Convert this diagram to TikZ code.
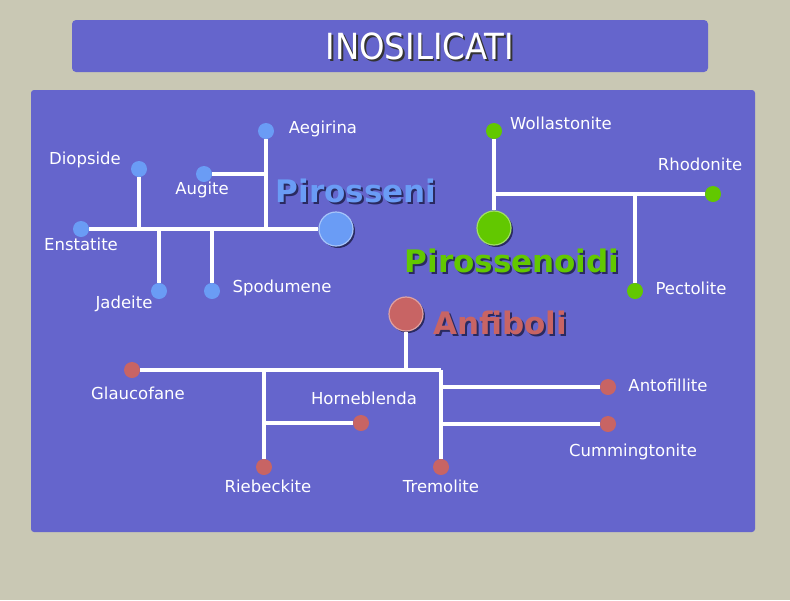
\documentclass[tikz,border=0pt]{standalone}
\usepackage{fontspec}
\setmainfont{DejaVu Sans}
\definecolor{sfondo}{HTML}{C9C8B4}
\definecolor{pannello}{HTML}{6565CC}
\definecolor{blu}{HTML}{6A9CF5}
\definecolor{verde}{HTML}{62C800}
\definecolor{rosso}{HTML}{C86464}
\definecolor{ombra}{HTML}{2A2A60}
% testo con ombra
\newcommand{\conombra}[2]{\rlap{\hspace{2pt}\raisebox{-2pt}{\textcolor{#1}{#2}}}#2}
\tikzset{
  pallino/.style={circle, inner sep=0pt, minimum size=16pt},
  nodone/.style={circle, inner sep=0pt, minimum size=34pt, line width=1.2pt},
  ombrone/.style={circle, inner sep=0pt, minimum size=34pt, fill=ombra},
  etichetta/.style={rectangle, inner sep=0pt, text=white, font=\fontsize{16.5}{19}\selectfont},
  gruppo/.style={rectangle, inner sep=0pt, font=\bfseries\fontsize{31}{36}\selectfont},
  ramo/.style={draw=white, line width=4pt}
}
\begin{document}
\begin{tikzpicture}[x=1pt, y=-1pt]
  \useasboundingbox[fill=sfondo] (0,0) rectangle (790,600);
  % pannelli
  \fill[pannello, rounded corners=4pt] (72,20) rectangle (708,72);
  \fill[pannello, rounded corners=3pt] (31,90) rectangle (755,532);
  \node[rectangle, text=white, font=\fontsize{36}{40}\selectfont, xscale=0.9] (titolo) at (420,47) {\conombra{black!80}{INOSILICATI}};

  % Posizioni dei nodi - Pirosseni
  \node[ombrone] (pirombra) at (338,231) {};
  \node[nodone, fill=blu, draw=blu!60!white] (pir) at (336,229) {};
  \node[pallino, fill=blu] (ens) at (81,229) {};
  \node[pallino, fill=blu] (dio) at (139,169) {};
  \node[pallino, fill=blu] (aeg) at (266,131) {};
  \node[pallino, fill=blu] (aug) at (204,174) {};
  \node[pallino, fill=blu] (jad) at (159,291) {};
  \node[pallino, fill=blu] (spo) at (212,291) {};
  \coordinate (jdio) at (139,229);
  \coordinate (jaeg) at (266,229);
  \coordinate (jaug) at (266,174);
  \coordinate (jjad) at (159,229);
  \coordinate (jspo) at (212,229);

  % Posizioni dei nodi - Pirossenoidi
  \node[ombrone] (psdombra) at (496,230) {};
  \node[nodone, fill=verde, draw=verde!60!white] (psd) at (494,228) {};
  \node[pallino, fill=verde] (wol) at (494,131) {};
  \node[pallino, fill=verde] (rho) at (713,194) {};
  \node[pallino, fill=verde] (pec) at (635,291) {};
  \coordinate (jwol) at (494,194);
  \coordinate (jpec) at (635,194);

  % Posizioni dei nodi - Anfiboli
  \node[ombrone] (anfombra) at (408,316) {};
  \node[nodone, fill=rosso, draw=rosso!60!white] (anf) at (406,314) {};
  \node[pallino, fill=rosso] (gla) at (132,370) {};
  \node[pallino, fill=rosso] (rie) at (264,467) {};
  \node[pallino, fill=rosso] (hor) at (361,423) {};
  \node[pallino, fill=rosso] (tre) at (441,467) {};
  \node[pallino, fill=rosso] (ant) at (608,387) {};
  \node[pallino, fill=rosso] (cum) at (608,424) {};
  \coordinate (janf) at (406,370);
  \coordinate (jrie) at (264,370);
  \coordinate (jhor) at (264,423);
  \coordinate (jtre) at (441,370);
  \coordinate (jant) at (441,387);
  \coordinate (jcum) at (441,424);

  % Archi
  \draw[ramo] (ens) -- (pir);
  \draw[ramo] (jdio) -- (dio);
  \draw[ramo] (jaeg) -- (aeg);
  \draw[ramo] (jaug) -- (aug);
  \draw[ramo] (jjad) -- (jad);
  \draw[ramo] (jspo) -- (spo);
  \draw[ramo] (psd) -- (wol);
  \draw[ramo] (jwol) -- (rho);
  \draw[ramo] (jpec) -- (pec);
  \draw[ramo] (anf) -- (janf);
  \draw[ramo] (gla) -- (jtre);
  \draw[ramo] (jrie) -- (rie);
  \draw[ramo] (jhor) -- (hor);
  \draw[ramo] (jtre) -- (tre);
  \draw[ramo] (jant) -- (ant);
  \draw[ramo] (jcum) -- (cum);

  % Etichette
  \node[etichetta] (lens) at (81,244) {Enstatite};
  \node[etichetta] (ldio) at (85,160) {Diopside};
  \node[etichetta] (laeg) at (323,129) {Aegirina};
  \node[etichetta] (laug) at (202,190) {Augite};
  \node[etichetta] (ljad) at (124,304) {Jadeite};
  \node[etichetta] (lspo) at (282,288) {Spodumene};
  \node[etichetta] (lwol) at (561,123) {Wollastonite};
  \node[etichetta] (lrho) at (700,164) {Rhodonite};
  \node[etichetta] (lpec) at (691,288) {Pectolite};
  \node[etichetta] (lgla) at (138,393) {Glaucofane};
  \node[etichetta] (lhor) at (364,398) {Horneblenda};
  \node[etichetta] (lrie) at (268,486) {Riebeckite};
  \node[etichetta] (ltre) at (441,486) {Tremolite};
  \node[etichetta] (lant) at (668,385) {Antofillite};
  \node[etichetta] (lcum) at (633,452) {Cummingtonite};

  \node[gruppo, text=blu] (lpir) at (356,192) {\conombra{ombra}{Pirosseni}};
  \node[gruppo, text=verde] (lpsd) at (512,262) {\conombra{ombra}{Pirossenoidi}};
  \node[gruppo, text=rosso] (lanf) at (500,324) {\conombra{ombra}{Anfiboli}};
\end{tikzpicture}
\end{document}
